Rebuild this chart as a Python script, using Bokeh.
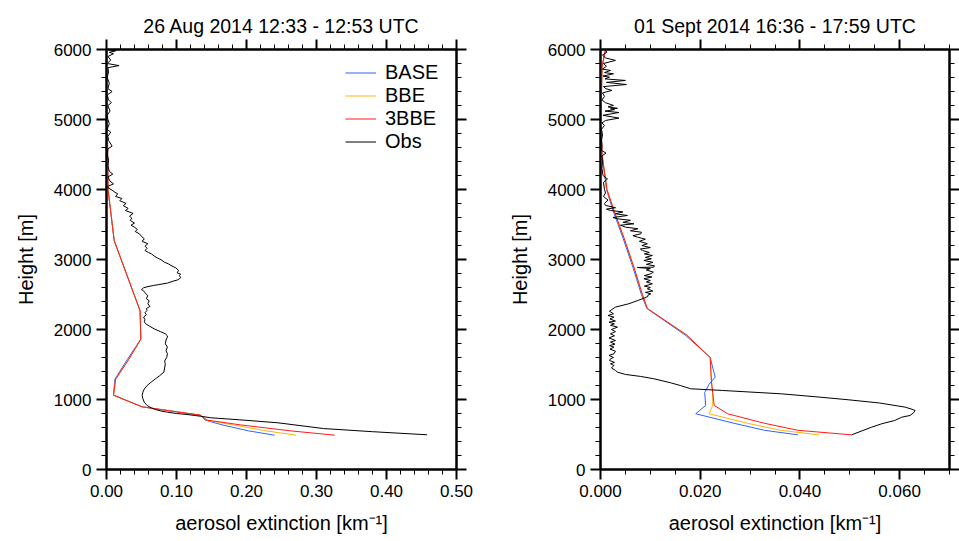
from bokeh.plotting import figure
from bokeh.layouts import row
from bokeh.models import (LinearAxis, SingleIntervalTicker, NumeralTickFormatter,
                          CustomJSTickFormatter, Legend, LegendItem, Range1d)
from bokeh.embed import file_html
from bokeh.resources import INLINE

FONT = "Liberation Sans"

# ---- 26 Aug 2014: model profiles (shared model levels) ----
aug_model_height = [6000, 5000, 4000, 3270, 2267, 1862, 1576, 1290, 1062, 895,
                    776, 705, 638, 552, 490]
aug_base = [0.0008, 0.0012, 0.0022, 0.011, 0.048, 0.049, 0.030, 0.012, 0.010, 0.051,
            0.134, 0.141, 0.165, 0.203, 0.240]
aug_bbe = [0.0008, 0.0012, 0.0022, 0.011, 0.048, 0.049, 0.032, 0.013, 0.010, 0.051,
           0.134, 0.143, 0.180, 0.228, 0.271]
aug_3bbe = [0.0008, 0.0012, 0.0022, 0.011, 0.048, 0.049, 0.032, 0.013, 0.010, 0.051,
            0.134, 0.144, 0.191, 0.263, 0.326]

# ---- 26 Aug 2014: lidar observation ----
aug_obs_height = [
    6000, 5980, 5960, 5940, 5900, 5850, 5800, 5770, 5740, 5680,
    5600, 5520, 5440, 5400, 5350, 5280, 5240, 5200, 5120, 5060,
    5000, 4940, 4860, 4820, 4760, 4700, 4620, 4580, 4500, 4420,
    4340, 4260, 4220, 4180, 4120, 4080, 4050, 4034,
    3990, 3960, 3939, 3900, 3872, 3840, 3801, 3770, 3729, 3700,
    3658, 3620, 3590, 3558, 3520, 3490, 3462, 3430, 3400, 3367,
    3330, 3296, 3260, 3225, 3190, 3160, 3129, 3100, 3082, 3050,
    3020, 2996, 2960, 2940, 2915, 2880, 2844, 2810, 2790, 2772,
    2740, 2710, 2690, 2663, 2640, 2629, 2610, 2596, 2570, 2558,
    2530, 2500, 2486, 2440, 2410, 2368, 2330, 2300, 2272, 2240,
    2210, 2177, 2140, 2110, 2082, 2050, 2010, 1970, 1939, 1910,
    1891, 1850, 1796, 1750, 1700, 1653, 1600, 1550, 1510, 1450,
    1391, 1340, 1296, 1250, 1200, 1150, 1105, 1060, 1010, 960,
    915, 880, 857, 835, 819, 800, 786, 760, 739, 710,
    667, 585, 540, 496]
aug_obs = [
    0.002, 0.013, 0.004, 0.010, 0.002, 0.006, 0.001, 0.018, 0.002, 0.003,
    0.001, 0.004, 0.002, 0.008, 0.001, 0.003, 0.007, 0.002, 0.005, 0.001,
    0.002, 0.004, 0.001, 0.006, 0.002, 0.003, 0.008, 0.002, 0.001, 0.003,
    0.002, 0.004, 0.009, 0.002, 0.005, 0.010, 0.003, 0.001,
    0.008, 0.012, 0.016, 0.013, 0.022, 0.019, 0.028, 0.024, 0.031, 0.027,
    0.038, 0.033, 0.036, 0.034, 0.040, 0.035, 0.040, 0.044, 0.041, 0.047,
    0.050, 0.054, 0.051, 0.059, 0.055, 0.058, 0.055, 0.060, 0.064, 0.068,
    0.073, 0.078, 0.083, 0.088, 0.092, 0.099, 0.103, 0.101, 0.106, 0.104,
    0.106, 0.102, 0.095, 0.087, 0.074, 0.067, 0.058, 0.053, 0.050, 0.052,
    0.055, 0.057, 0.059, 0.057, 0.061, 0.059, 0.062, 0.057, 0.058, 0.055,
    0.057, 0.053, 0.055, 0.054, 0.056, 0.061, 0.068, 0.077, 0.084, 0.087,
    0.087, 0.085, 0.084, 0.087, 0.085, 0.087, 0.086, 0.083, 0.084, 0.083,
    0.082, 0.076, 0.070, 0.064, 0.058, 0.054, 0.052, 0.051, 0.052, 0.054,
    0.058, 0.064, 0.070, 0.078, 0.087, 0.100, 0.115, 0.135, 0.149, 0.190,
    0.245, 0.310, 0.380, 0.458]

# ---- 01 Sept 2014: model profiles ----
sep_model_height = [6000, 5750, 5000, 4500, 4000, 3700, 3310, 2890, 2500, 2300,
                    1920, 1600, 1320, 1220, 1100, 915, 796, 660, 560, 495]
sep_base = [0.0010, 0.0003, 0.0001, 0.0003, 0.0012, 0.0025, 0.0045, 0.0065, 0.0082, 0.0093,
            0.0170, 0.0220, 0.0230, 0.0218, 0.0209, 0.0211, 0.0191, 0.0268, 0.0329, 0.0396]
sep_bbe = [0.0010, 0.0003, 0.0001, 0.0003, 0.0013, 0.0027, 0.0047, 0.0067, 0.0084, 0.0094,
           0.0173, 0.0220, 0.0222, 0.0223, 0.0225, 0.0225, 0.0218, 0.0295, 0.0362, 0.0438]
sep_3bbe = [0.0010, 0.0003, 0.0001, 0.0003, 0.0013, 0.0027, 0.0047, 0.0067, 0.0084, 0.0094,
            0.0173, 0.0220, 0.0222, 0.0223, 0.0225, 0.0228, 0.0255, 0.0329, 0.0396, 0.0504]

# ---- 01 Sept 2014: lidar observation ----
sep_obs_height = [
    6000, 5963, 5920, 5880, 5844, 5800, 5760, 5720, 5701, 5670,
    5653, 5620, 5605, 5580, 5558, 5530, 5500, 5470, 5440, 5415,
    5380, 5330, 5280, 5240, 5201, 5180, 5160, 5153, 5140, 5120,
    5100, 5060, 5020, 4986, 4950, 4915, 4860, 4780, 4700, 4620,
    4560, 4520, 4480, 4400, 4300, 4200, 4150, 4100, 4000, 3950,
    3900, 3850, 3800, 3772, 3740, 3720, 3700, 3680, 3653, 3629,
    3600, 3582, 3560, 3530, 3510, 3490, 3462, 3440, 3410, 3390,
    3367, 3340, 3320, 3290, 3260, 3225, 3200, 3170, 3150, 3129,
    3100, 3080, 3058, 3030, 3010, 2986, 2960, 2930, 2910, 2891,
    2886, 2870, 2850, 2820, 2796, 2770, 2750, 2725, 2700, 2680,
    2653, 2620, 2600, 2582, 2550, 2530, 2510, 2490, 2472, 2450,
    2415, 2368, 2320, 2296, 2260, 2225, 2200, 2177, 2150, 2120,
    2105, 2080, 2060, 2034, 2000, 1970, 1939, 1910, 1880, 1843,
    1820, 1790, 1770, 1748, 1720, 1690, 1653, 1630, 1600, 1580,
    1558, 1530, 1510, 1486, 1450, 1415, 1391, 1358, 1330, 1296,
    1240, 1200, 1153, 1129, 1081, 1040, 996, 950, 891, 860,
    843, 810, 772, 747, 700, 653, 605, 496]
sep_obs = [
    0.0008, 0.0013, 0.0004, 0.0010, 0.0030, 0.0006, 0.0012, 0.0004, 0.0020, 0.0008,
    0.0026, 0.0005, 0.0018, 0.0009, 0.0050, 0.0012, 0.0052, 0.0006, 0.0011, 0.0023,
    0.0004, 0.0008, 0.0003, 0.0010, 0.0026, 0.0015, 0.0034, 0.0020, 0.0028, 0.0009,
    0.0037, 0.0005, 0.0037, 0.0010, 0.0003, 0.0008, 0.0002, 0.0004, 0.0002, 0.0003,
    0.0002, 0.0011, 0.0003, 0.0004, 0.0003, 0.0005, 0.0014, 0.0006, 0.0008, 0.0010,
    0.0006, 0.0015, 0.0008, 0.0010, 0.0030, 0.0012, 0.0020, 0.0045, 0.0030, 0.0054,
    0.0025, 0.0034, 0.0060, 0.0045, 0.0067, 0.0040, 0.0050, 0.0075, 0.0060, 0.0082,
    0.0081, 0.0065, 0.0074, 0.0090, 0.0078, 0.0094, 0.0083, 0.0100, 0.0080, 0.0084,
    0.0098, 0.0088, 0.0104, 0.0090, 0.0102, 0.0087, 0.0105, 0.0092, 0.0108, 0.0107,
    0.0074, 0.0100, 0.0092, 0.0106, 0.0101, 0.0088, 0.0103, 0.0087, 0.0100, 0.0092,
    0.0104, 0.0088, 0.0100, 0.0094, 0.0105, 0.0090, 0.0101, 0.0095, 0.0095, 0.0088,
    0.0075, 0.0057, 0.0030, 0.0025, 0.0018, 0.0026, 0.0015, 0.0027, 0.0019, 0.0030,
    0.0017, 0.0028, 0.0020, 0.0034, 0.0022, 0.0030, 0.0020, 0.0028, 0.0017, 0.0030,
    0.0020, 0.0029, 0.0018, 0.0027, 0.0019, 0.0030, 0.0027, 0.0017, 0.0026, 0.0020,
    0.0018, 0.0028, 0.0020, 0.0027, 0.0022, 0.0030, 0.0034, 0.0050, 0.0080, 0.0107,
    0.0140, 0.0160, 0.0181, 0.0245, 0.0363, 0.0430, 0.0497, 0.0560, 0.0611, 0.0625,
    0.0631, 0.0628, 0.0621, 0.0604, 0.0590, 0.0564, 0.0544, 0.0504]

series_names = ["BASE", "BBE", "3BBE", "Obs"]
series_colors = ["#2f62ff", "#ffb310", "#ff1a1a", "black"]


def style_axis(ax, labelled, fmt=None):
    ax.axis_line_width = 2
    ax.axis_line_color = "black"
    ax.major_tick_line_width = 2
    ax.minor_tick_line_width = 1
    ax.major_tick_in = 0
    ax.major_tick_out = 10
    ax.minor_tick_in = 0
    ax.minor_tick_out = 5
    ax.axis_label_text_font = FONT
    ax.axis_label_text_font_style = "normal"
    ax.axis_label_text_font_size = "20px"
    ax.axis_label_text_color = "black"
    ax.major_label_text_font = FONT
    if labelled:
        ax.formatter = fmt
        ax.major_label_text_font_size = "17px"
        ax.major_label_text_color = "black"
        ax.major_label_standoff = 5
    else:
        ax.formatter = CustomJSTickFormatter(code="return ''")
        ax.major_label_text_font_size = "0px"
        ax.major_label_standoff = 0


def make_panel(title, xmax, xstep, xminor, xfmt, heights, base, bbe, bbbe,
               obs_h, obs_v, width, border_left, border_right, with_legend):
    p = figure(width=width, height=541, output_backend="svg", toolbar_location=None,
               x_range=Range1d(0, xmax), y_range=Range1d(0, 6000),
               x_axis_location=None, y_axis_location=None,
               min_border_left=border_left, min_border_right=border_right,
               min_border_top=49, min_border_bottom=72)
    p.grid.visible = False
    p.outline_line_color = "black"
    p.outline_line_width = 2
    p.background_fill_color = "white"
    p.border_fill_color = "white"

    xt = SingleIntervalTicker(interval=xstep, num_minor_ticks=xminor)
    yt = SingleIntervalTicker(interval=1000, num_minor_ticks=5)

    bottom = LinearAxis(ticker=xt, axis_label="aerosol extinction [km\u207b\u00b9]")
    style_axis(bottom, True, NumeralTickFormatter(format=xfmt))
    bottom.axis_label_standoff = 12
    top = LinearAxis(ticker=xt)
    style_axis(top, False)
    left = LinearAxis(ticker=yt, axis_label="Height [m]")
    style_axis(left, True, NumeralTickFormatter(format="0"))
    left.axis_label_standoff = 14
    right = LinearAxis(ticker=yt)
    style_axis(right, False)
    p.add_layout(bottom, "below")
    p.add_layout(top, "above")
    p.add_layout(left, "left")
    p.add_layout(right, "right")

    p.title.text = title
    p.title.align = "center"
    p.title.text_font = FONT
    p.title.text_font_style = "normal"
    p.title.text_font_size = "19.5px"
    p.title.text_color = "black"
    p.title.standoff = 6

    rs = []
    for vals, hts, col in zip([base, bbe, bbbe, obs_v],
                              [heights, heights, heights, obs_h], series_colors):
        rs.append(p.line(x=vals, y=hts, line_color=col, line_width=1))

    if with_legend:
        legend = Legend(items=[LegendItem(label=n, renderers=[r])
                               for n, r in zip(series_names, rs)],
                        location=(239, 316), margin=0, padding=0, spacing=0,
                        glyph_width=31, glyph_height=21, label_height=21,
                        label_standoff=9, label_text_font=FONT,
                        label_text_font_size="20px", label_text_color="black",
                        border_line_alpha=0, background_fill_alpha=0)
        p.add_layout(legend)
    return p


p1 = make_panel("26 Aug 2014 12:33 - 12:53 UTC", 0.5, 0.1, 5, "0.00",
                aug_model_height, aug_base, aug_bbe, aug_3bbe,
                aug_obs_height, aug_obs, 476, 106, 20, True)
p2 = make_panel("01 Sept 2014 16:36 - 17:59 UTC", 0.07, 0.02, 4, "0.000",
                sep_model_height, sep_base, sep_bbe, sep_3bbe,
                sep_obs_height, sep_obs, 483, 124, 10, False)

layout = row(p1, p2, spacing=0)
open("out.html", "w").write(file_html(layout, INLINE))
